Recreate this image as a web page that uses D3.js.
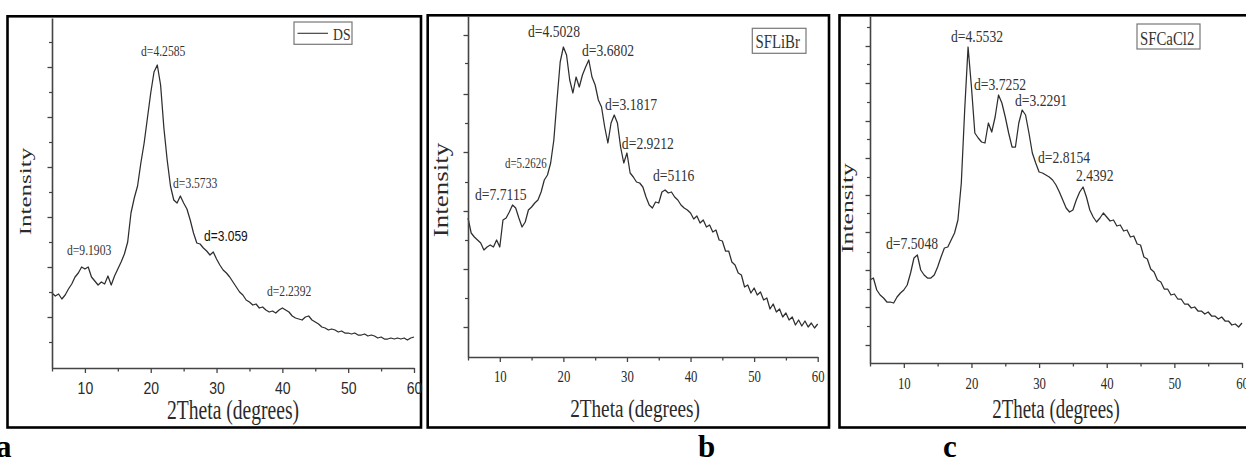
<!DOCTYPE html>
<html><head><meta charset="utf-8">
<script src="https://cdn.jsdelivr.net/npm/d3@7/dist/d3.min.js"></script>
<style>html,body{margin:0;padding:0;background:#fff;}svg{display:block;}</style>
</head><body>
<svg id="chart" width="1246" height="459"></svg>
<script>
// ---------------- DATA ----------------
const twoTheta = [5,5.5,6,6.5,7,7.5,8,8.5,9,9.5,10,10.5,11,11.5,12,12.5,13,13.5,14,14.5,15,15.5,16,16.5,17,17.5,18,18.5,19,19.5,20,20.5,21,21.5,22,22.5,23,23.5,24,24.5,25,25.5,26,26.5,27,27.5,28,28.5,29,29.5,30,30.5,31,31.5,32,32.5,33,33.5,34,34.5,35,35.5,36,36.5,37,37.5,38,38.5,39,39.5,40,40.5,41,41.5,42,42.5,43,43.5,44,44.5,45,45.5,46,46.5,47,47.5,48,48.5,49,49.5,50,50.5,51,51.5,52,52.5,53,53.5,54,54.5,55,55.5,56,56.5,57,57.5,58,58.5,59,59.5,60];

const intensityDS = [
  75,72,74,69,73,79,84,91,95,101,
  99,101,91,87,83,86,84,92,83,92,
  99,106,114,126,155,170,182,205,225,250,
  275,296,303,283,240,208,182,168,165,172,
  165,159,148,135,125,124,120,117,113,116,
  109,103,98,95,91,86,81,76,73,68,
  66,63,64,60,61,58,56,57,55,58,
  60,58,56,52,50,49,48,51,52,48,
  46,44,41,40,38,39,38,36,37,35,
  35,34,35,33,33,34,32,33,32,30,
  31,29,29,30,29,30,29,30,28,30,
  31];

const intensitySFLiBr = [
  139,124,120,117,114,107,110,112,110,117,
  110,137,139,145,152,149,139,130,135,147,
  150,154,157,165,177,182,194,217,257,295,
  310,302,277,264,280,270,282,290,297,280,
  272,257,250,230,214,234,242,234,210,194,
  204,184,180,175,174,170,160,152,149,155,
  154,165,167,164,165,160,157,152,149,147,
  144,138,141,134,137,130,132,125,127,117,
  116,106,106,95,92,84,82,70,72,64,
  69,62,65,57,59,48,53,45,48,40,
  44,37,40,32,37,31,36,30,34,29,
  33];

const intensitySFCaCl2 = [
  83,85,73,68,65,61,61,60,66,70,
  73,78,90,105,108,93,88,85,85,88,
  96,106,115,116,123,130,143,180,253,316,
  276,230,225,221,220,240,231,246,268,260,
  246,230,216,216,240,253,248,230,210,200,
  191,190,188,186,183,178,171,163,155,151,
  153,163,171,176,166,153,146,141,145,150,
  146,142,143,137,138,132,133,126,127,119,
  118,106,104,94,91,83,81,74,74,68,
  69,64,64,59,59,55,56,52,52,49,
  51,47,47,44,46,42,42,38,39,36,
  40];

const xMajorTicks = [10,20,30,40,50,60];
const xMinorTicks = [5,15,25,35,45,55];

const yMajorDS = [51,101,151,201,251,301];
const yMinorDS = [26,76,126,176,226,276,326];
const yMajorSFLiBr = [30,88,146,205,263,322];
const yMinorSFLiBr = [59,117,175,234,294];
const yMajorSFCaCl2 = [18,56,93,131,168,205,242,280,317];
const yMinorSFCaCl2 = [37,74,111,150,186,224,261,299,336];

const peaksDS = [
  {label:"d=9.1903", x:7.28, y:113},
  {label:"d=4.2585", x:18.53, y:312},
  {label:"d=3.5733", x:23.39, y:180},
  {label:"d=3.059", x:28.1, y:127, sans:true},
  {label:"d=2.2392", x:37.67, y:72}
];
const peaksSFLiBr = [
  {label:"d=7.7115", x:6.1, y:157},
  {label:"d=5.2626", x:10.82, y:189, small:true},
  {label:"d=4.5028", x:14.43, y:320},
  {label:"d=3.6802", x:22.93, y:301},
  {label:"d=3.1817", x:26.55, y:247},
  {label:"d=2.9212", x:29.2, y:208},
  {label:"d=5116", x:34.1, y:176}
];
const peaksSFCaCl2 = [
  {label:"d=7.5048", x:7.37, y:114},
  {label:"d=4.5532", x:16.98, y:321},
  {label:"d=3.7252", x:20.38, y:273},
  {label:"d=3.2291", x:26.44, y:257},
  {label:"d=2.8154", x:29.84, y:200},
  {label:"2.4392", x:35.45, y:182}
];

const xTitle = "2Theta (degrees)";
const yTitle = "Intensity";
const panelLetters = ["a","b","c"];

// ---------------- DRAWING ----------------
const SERIF = "'Liberation Serif','Times New Roman',Times,serif";
const SANS = "'Liberation Sans',Arial,Helvetica,sans-serif";
const svg = d3.select("#chart");
svg.append("rect").attr("width",1246).attr("height",459).attr("fill","#fff");

function addText(g, x, y, str, o) {
  const t = g.append("g").attr("transform", `translate(${x},${y}) scale(${o.sx||1},1)`)
    .append("text")
    .attr("text-anchor", o.anchor || "start")
    .attr("font-family", o.family || SERIF)
    .attr("font-size", o.size)
    .attr("font-weight", o.weight || "normal")
    .attr("fill", o.fill || "#333")
    .text(str);
  if (o.rotate) t.attr("transform", `rotate(${o.rotate})`);
  return t;
}

const panels = [
  {values:intensityDS, yMax:350, left:52, right:414, bottom:368, top:18,
   frame:[7.5,16.3,421,427.5], yMajor:yMajorDS, yMinor:yMinorDS, peaks:peaksDS,
   tickFont:SANS, tickSize:16.5, tickSX:0.85, tickPad:9,
   annSize:14.5, annSX:0.8,
   title:{x:233, y:419, size:27, sx:0.725},
   ylab:{x:31.3, y:191.5, size:25, sx:0.7},
   legend:{rect:[294,22,58,22.3], line:[297.5,328,33.3], text:"DS", tx:333, ty:40, size:17.6},
   letterX:-4},
  {values:intensitySFLiBr, yMax:341, left:468, right:817.7, bottom:357, top:16,
   frame:[427.7,15.3,829,427.5], yMajor:yMajorSFLiBr, yMinor:yMinorSFLiBr, peaks:peaksSFLiBr,
   tickFont:SERIF, tickSize:17, tickSX:0.75, tickPad:8,
   annSize:17.5, annSX:0.78,
   title:{x:635, y:417, size:26, sx:0.74},
   ylab:{x:447.9, y:190, size:27, sx:0.74},
   legend:{rect:[752.3,28.3,53.7,25], text:"SFLiBr", tx:755.5, ty:48, size:19},
   letterX:698},
  {values:intensitySFCaCl2, yMax:347, left:870, right:1242, bottom:363, top:16,
   frame:[839.5,15.3,1252,427.5], yMajor:yMajorSFCaCl2, yMinor:yMinorSFCaCl2, peaks:peaksSFCaCl2,
   tickFont:SERIF, tickSize:17, tickSX:0.75, tickPad:9,
   annSize:17.5, annSX:0.78,
   title:{x:1056, y:418, size:27, sx:0.70},
   ylab:{x:853.2, y:208, size:25.7, sx:0.68},
   legend:{rect:[1137,24,63,25], text:"SFCaCl2", tx:1140, ty:45, size:19},
   letterX:943}
];

panels.forEach((p, pi) => {
  const g = svg.append("g");
  const [fx0, fy0, fx1, fy1] = p.frame;
  g.append("rect").attr("x",fx0).attr("y",fy0).attr("width",fx1-fx0).attr("height",fy1-fy0)
    .attr("fill","none").attr("stroke","#000").attr("stroke-width",2.6);

  const x = d3.scaleLinear().domain([5,60]).range([p.left, p.right]);
  const y = d3.scaleLinear().domain([0,p.yMax]).range([p.bottom, p.top]);

  const pts = twoTheta.map((t,i) => [t, p.values[i]]).filter(d => d[1] != null);
  g.append("path").datum(pts)
    .attr("d", d3.line().x(d => x(d[0])).y(d => y(d[1])))
    .attr("fill","none").attr("stroke","#2e2e2e").attr("stroke-width",1.25)
    .attr("stroke-linejoin","round");

  const xa = g.append("g").attr("transform",`translate(0,${p.bottom})`)
    .call(d3.axisBottom(x).tickValues(xMajorTicks).tickSize(5).tickSizeOuter(0).tickPadding(p.tickPad));
  xa.select(".domain").attr("stroke","#444").attr("stroke-width",1.6);
  xa.selectAll(".tick line").attr("stroke","#444").attr("stroke-width",1.3);
  xa.selectAll(".tick text").attr("font-family",p.tickFont).attr("font-size",p.tickSize)
    .attr("fill","#2a2a2a").attr("transform",`scale(${p.tickSX},1)`);
  const xm = g.append("g").attr("transform",`translate(0,${p.bottom})`)
    .call(d3.axisBottom(x).tickValues(xMinorTicks).tickSize(3.5).tickSizeOuter(0).tickFormat(""));
  xm.select(".domain").remove();
  xm.selectAll(".tick line").attr("stroke","#444").attr("stroke-width",1.3);

  const ya = g.append("g").attr("transform",`translate(${p.left},0)`)
    .call(d3.axisLeft(y).tickValues(p.yMajor).tickSize(4.5).tickSizeOuter(0).tickFormat(""));
  ya.select(".domain").attr("stroke","#444").attr("stroke-width",1.6);
  ya.selectAll(".tick line").attr("stroke","#444").attr("stroke-width",1.3);
  const ym = g.append("g").attr("transform",`translate(${p.left},0)`)
    .call(d3.axisLeft(y).tickValues(p.yMinor).tickSize(3).tickSizeOuter(0).tickFormat(""));
  ym.select(".domain").remove();
  ym.selectAll(".tick line").attr("stroke","#444").attr("stroke-width",1.2);

  p.peaks.forEach(pk => {
    addText(g, x(pk.x), y(pk.y), pk.label, {
      size: pk.small ? 14 : (pk.sans ? 15 : p.annSize),
      sx: pk.sans ? 0.8 : p.annSX,
      family: pk.sans ? SANS : SERIF,
      fill: pk.sans ? "#111" : "#333"
    });
  });

  addText(g, p.title.x, p.title.y, xTitle, {size:p.title.size, sx:p.title.sx, anchor:"middle", fill:"#2a2a2a"});
  addText(g, p.ylab.x, p.ylab.y, yTitle, {size:p.ylab.size, sx:p.ylab.sx, anchor:"middle", rotate:-90, fill:"#2a2a2a"});

  const L = p.legend;
  g.append("rect").attr("x",L.rect[0]).attr("y",L.rect[1]).attr("width",L.rect[2]).attr("height",L.rect[3])
    .attr("fill","#fff").attr("stroke","#777").attr("stroke-width",1.2);
  if (L.line) g.append("line").attr("x1",L.line[0]).attr("x2",L.line[1]).attr("y1",L.line[2]).attr("y2",L.line[2])
    .attr("stroke","#333").attr("stroke-width",1.1);
  addText(g, L.tx, L.ty, L.text, {size:L.size, sx:0.78, fill:"#333"});

  svg.append("text").attr("x",p.letterX).attr("y",457).attr("font-family",SERIF)
    .attr("font-weight","bold").attr("font-size",31).attr("fill","#000").text(panelLetters[pi]);
});
</script>
</body></html>
